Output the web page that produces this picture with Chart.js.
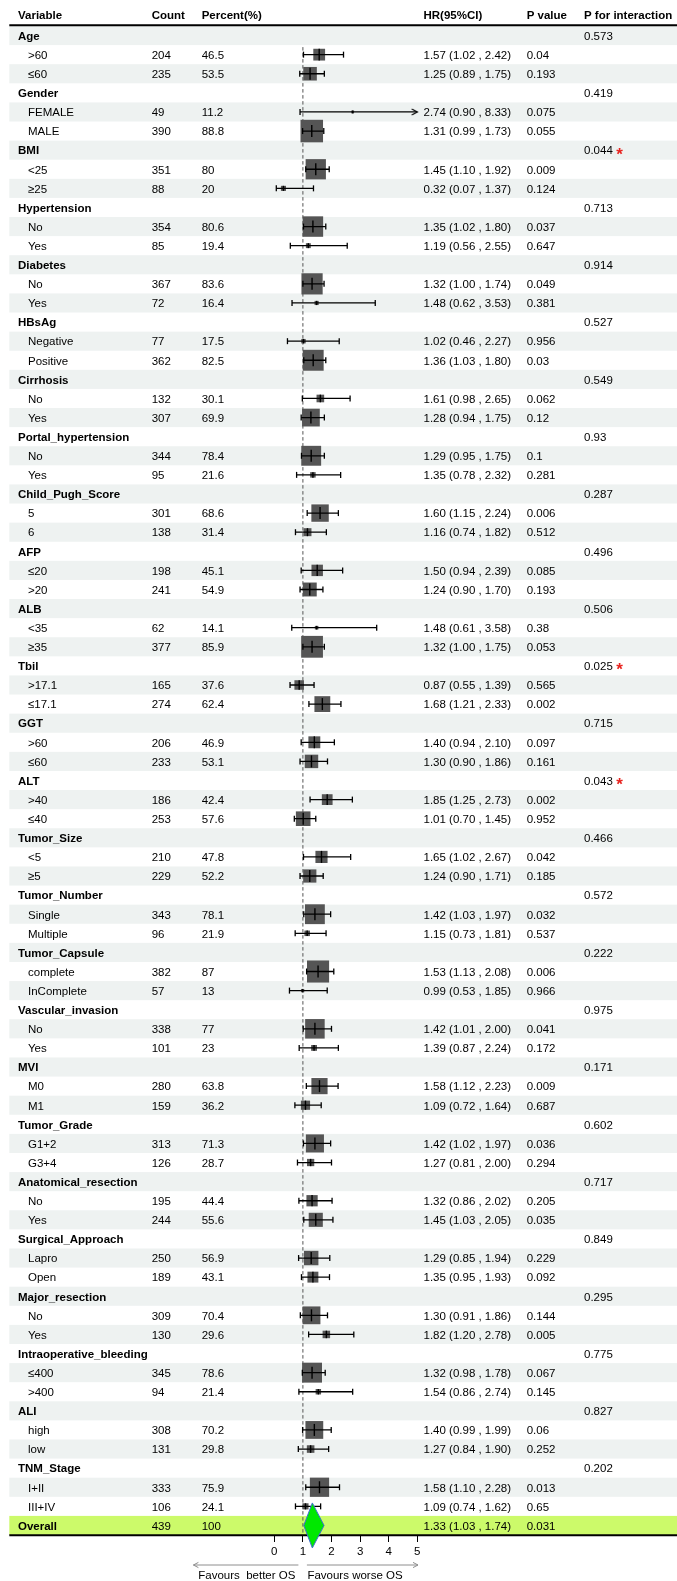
<!DOCTYPE html>
<html>
<head>
<meta charset="utf-8">
<script src="https://cdn.jsdelivr.net/npm/chart.js@4/dist/chart.umd.min.js"></script>
<style>
  html, body { margin: 0; padding: 0; background: #fff; }
  #wrap { position: relative; width: 677px; height: 1581px; }
</style>
</head>
<body>
<div id="wrap"><canvas id="forest"></canvas></div>
<script>
// ---- subgroup analysis data ----
const variables = ['Age','Gender','BMI','Hypertension','Diabetes','HBsAg','Cirrhosis','Portal_hypertension',
  'Child_Pugh_Score','AFP','ALB','Tbil','GGT','ALT','Tumor_Size','Tumor_Number','Tumor_Capsule',
  'Vascular_invasion','MVI','Tumor_Grade','Anatomical_resection','Surgical_Approach','Major_resection',
  'Intraoperative_bleeding','ALI','TNM_Stage'];

const levels = [['>60','≤60'],['FEMALE','MALE'],['<25','≥25'],['No','Yes'],['No','Yes'],['Negative','Positive'],
  ['No','Yes'],['No','Yes'],['5','6'],['≤20','>20'],['<35','≥35'],['>17.1','≤17.1'],['>60','≤60'],['>40','≤40'],
  ['<5','≥5'],['Single','Multiple'],['complete','InComplete'],['No','Yes'],['M0','M1'],['G1+2','G3+4'],
  ['No','Yes'],['Lapro','Open'],['No','Yes'],['≤400','>400'],['high','low'],['I+II','III+IV']];

const counts = [[204,235],[49,390],[351,88],[354,85],[367,72],[77,362],[132,307],[344,95],[301,138],[198,241],
  [62,377],[165,274],[206,233],[186,253],[210,229],[343,96],[382,57],[338,101],[280,159],[313,126],[195,244],
  [250,189],[309,130],[345,94],[308,131],[333,106]];

const percents = [[46.5,53.5],[11.2,88.8],[80,20],[80.6,19.4],[83.6,16.4],[17.5,82.5],[30.1,69.9],[78.4,21.6],
  [68.6,31.4],[45.1,54.9],[14.1,85.9],[37.6,62.4],[46.9,53.1],[42.4,57.6],[47.8,52.2],[78.1,21.9],[87,13],
  [77,23],[63.8,36.2],[71.3,28.7],[44.4,55.6],[56.9,43.1],[70.4,29.6],[78.6,21.4],[70.2,29.8],[75.9,24.1]];

const hazardRatios = [[1.57,1.25],[2.74,1.31],[1.45,0.32],[1.35,1.19],[1.32,1.48],[1.02,1.36],[1.61,1.28],
  [1.29,1.35],[1.60,1.16],[1.50,1.24],[1.48,1.32],[0.87,1.68],[1.40,1.30],[1.85,1.01],[1.65,1.24],[1.42,1.15],
  [1.53,0.99],[1.42,1.39],[1.58,1.09],[1.42,1.27],[1.32,1.45],[1.29,1.35],[1.30,1.82],[1.32,1.54],[1.40,1.27],
  [1.58,1.09]];

const ciLower = [[1.02,0.89],[0.90,0.99],[1.10,0.07],[1.02,0.56],[1.00,0.62],[0.46,1.03],[0.98,0.94],[0.95,0.78],
  [1.15,0.74],[0.94,0.90],[0.61,1.00],[0.55,1.21],[0.94,0.90],[1.25,0.70],[1.02,0.90],[1.03,0.73],[1.13,0.53],
  [1.01,0.87],[1.12,0.72],[1.02,0.81],[0.86,1.03],[0.85,0.95],[0.91,1.20],[0.98,0.86],[0.99,0.84],[1.10,0.74]];

const ciUpper = [[2.42,1.75],[8.33,1.73],[1.92,1.37],[1.80,2.55],[1.74,3.53],[2.27,1.80],[2.65,1.75],[1.75,2.32],
  [2.24,1.82],[2.39,1.70],[3.58,1.75],[1.39,2.33],[2.10,1.86],[2.73,1.45],[2.67,1.71],[1.97,1.81],[2.08,1.85],
  [2.00,2.24],[2.23,1.64],[1.97,2.00],[2.02,2.05],[1.94,1.93],[1.86,2.78],[1.78,2.74],[1.99,1.90],[2.28,1.62]];

const pValues = [[0.04,0.193],[0.075,0.055],[0.009,0.124],[0.037,0.647],[0.049,0.381],[0.956,0.03],[0.062,0.12],
  [0.1,0.281],[0.006,0.512],[0.085,0.193],[0.38,0.053],[0.565,0.002],[0.097,0.161],[0.002,0.952],[0.042,0.185],
  [0.032,0.537],[0.006,0.966],[0.041,0.172],[0.009,0.687],[0.036,0.294],[0.205,0.035],[0.229,0.092],
  [0.144,0.005],[0.067,0.145],[0.06,0.252],[0.013,0.65]];

const pInteraction = [0.573,0.419,0.044,0.713,0.914,0.527,0.549,0.93,0.287,0.496,0.506,0.025,0.715,0.043,
  0.466,0.572,0.222,0.975,0.171,0.602,0.717,0.849,0.295,0.775,0.827,0.202];

const overallLabel = 'Overall';
const overallCount = 439;
const overallPercent = 100;
const overallHR = 1.33;
const overallLower = 1.03;
const overallUpper = 1.74;
const overallP = 0.031;

const columnHeaders = ['Variable','Count','Percent(%)','HR(95%CI)','P value','P for interaction'];
const xTicks = [0, 1, 2, 3, 4, 5];
const referenceHR = 1;
const arrowLabels = ['Favours  better OS', 'Favours worse OS'];

// ---- table rows built from the arrays ----
const rows = [];
variables.forEach((v, g) => {
  rows.push({ label: v, group: true, pint: pInteraction[g] });
  levels[g].forEach((lv, k) => {
    rows.push({ label: lv, group: false, n: counts[g][k], pct: percents[g][k],
      hr: hazardRatios[g][k], lo: ciLower[g][k], hi: ciUpper[g][k], p: pValues[g][k] });
  });
});
rows.push({ label: overallLabel, group: true, overall: true, n: overallCount, pct: overallPercent,
  hr: overallHR, lo: overallLower, hi: overallUpper, p: overallP });

const X_MIN = xTicks[0], X_MAX = xTicks[xTicks.length - 1];
const estRows = rows.map((r, i) => Object.assign({ i }, r)).filter(r => r.hr != null && !r.overall);

// ---- layout & style ----
const FONT = "'Liberation Sans', Arial, sans-serif";
const FS = 11.5;
const COLS = { variable: 18, level: 28, count: 151.7, pct: 201.7, hr: 423.5, p: 526.7, pint: 584 };
const TABLE_LEFT = 9.3;
const BAND_BG = '#eef2f1';
const OVERALL_BG = '#ccfa6a';
const BOX_COLOR = '#555555';
const boxSide = n => n / 17.3;

// open chevron used where a confidence interval runs past the axis
const chevron = document.createElement('canvas');
chevron.width = 14; chevron.height = 10;
(() => {
  const c = chevron.getContext('2d');
  c.strokeStyle = '#000'; c.lineWidth = 1.2;
  c.beginPath(); c.moveTo(1.5, 2); c.lineTo(7, 5); c.lineTo(1.5, 8); c.stroke();
})();

function hrText(r) {
  return `${r.hr.toFixed(2)} (${r.lo.toFixed(2)} , ${r.hi.toFixed(2)})`;
}

const tablePlugin = {
  id: 'forestTable',
  beforeDraw(chart) {
    const { ctx, width, height } = chart;
    const y = chart.scales.y;
    ctx.save();
    ctx.fillStyle = '#fff';
    ctx.fillRect(0, 0, width, height);
    rows.forEach((r, i) => {
      const fill = r.overall ? OVERALL_BG : (i % 2 === 0 ? BAND_BG : null);
      if (!fill) return;
      const t = y.getPixelForValue(i - 0.5), b = y.getPixelForValue(i + 0.5);
      ctx.fillStyle = fill;
      ctx.fillRect(TABLE_LEFT, t, width - TABLE_LEFT, b - t);
    });
    ctx.restore();
  },
  beforeDatasetsDraw(chart) {
    const { ctx, width, chartArea } = chart;
    const { x, y } = chart.scales;
    ctx.save();
    // header and closing rules
    ctx.strokeStyle = '#000';
    ctx.lineWidth = 2;
    ctx.beginPath();
    ctx.moveTo(TABLE_LEFT, chartArea.top - 0.8); ctx.lineTo(width, chartArea.top - 0.8);
    ctx.moveTo(TABLE_LEFT, chartArea.bottom + 0.2); ctx.lineTo(width, chartArea.bottom + 0.2);
    ctx.stroke();
    // reference line at HR = 1
    const rx = x.getPixelForValue(referenceHR);
    ctx.strokeStyle = '#555';
    ctx.lineWidth = 1;
    ctx.setLineDash([3.5, 2.5]);
    ctx.beginPath();
    ctx.moveTo(rx, y.getPixelForValue(0.5) + 2);
    ctx.lineTo(rx, chartArea.bottom);
    ctx.stroke();
    ctx.restore();
  },
  afterDatasetsDraw(chart) {
    const { ctx, chartArea } = chart;
    const { x, y } = chart.scales;
    ctx.save();

    // pooled estimate diamond
    const oi = rows.length - 1, o = rows[oi];
    const cy = y.getPixelForValue(oi), half = 22.5;
    ctx.beginPath();
    ctx.moveTo(x.getPixelForValue(o.lo), cy);
    ctx.lineTo(x.getPixelForValue(o.hr), cy - half);
    ctx.lineTo(x.getPixelForValue(o.hi), cy);
    ctx.lineTo(x.getPixelForValue(o.hr), cy + half);
    ctx.closePath();
    ctx.fillStyle = '#00e800';
    ctx.fill();
    ctx.strokeStyle = '#3d6fcf';
    ctx.lineWidth = 1;
    ctx.stroke();

    // column headers
    ctx.fillStyle = '#000';
    ctx.textBaseline = 'alphabetic';
    ctx.textAlign = 'left';
    ctx.font = `bold ${FS}px ${FONT}`;
    const hy = chartArea.top - 6.7;
    const hx = [COLS.variable, COLS.count, COLS.pct, COLS.hr, COLS.p, COLS.pint];
    columnHeaders.forEach((h, k) => ctx.fillText(h, hx[k], hy));

    // table cells
    rows.forEach((r, i) => {
      const by = y.getPixelForValue(i) + 4.3;
      ctx.fillStyle = '#000';
      ctx.font = `${r.group ? 'bold ' : ''}${FS}px ${FONT}`;
      ctx.fillText(r.label, r.group ? COLS.variable : COLS.level, by);
      ctx.font = `${FS}px ${FONT}`;
      if (r.n != null) {
        ctx.fillText(String(r.n), COLS.count, by);
        ctx.fillText(String(r.pct), COLS.pct, by);
        ctx.fillText(hrText(r), COLS.hr, by);
        ctx.fillText(String(r.p), COLS.p, by);
      }
      if (r.pint != null) {
        const s = String(r.pint);
        ctx.fillText(s, COLS.pint, by);
        if (r.pint < 0.05) {
          const w = ctx.measureText(s).width;
          ctx.fillStyle = '#e8231f';
          ctx.font = `bold 17px ${FONT}`;
          ctx.fillText('*', COLS.pint + w + 3.5, by + 5.2);
        }
      }
    });

    // direction arrows under the axis
    const rx = x.getPixelForValue(referenceHR);
    const ay = chartArea.bottom + 30;
    ctx.strokeStyle = '#8e8e8e';
    ctx.lineWidth = 1;
    ctx.beginPath();
    const lx0 = rx - 4.5, lx1 = rx - 109.5;
    const rx0 = rx + 4, rx1 = x.getPixelForValue(X_MAX) + 0.7;
    ctx.moveTo(lx0, ay); ctx.lineTo(lx1, ay);
    ctx.moveTo(lx1 + 5, ay - 2.6); ctx.lineTo(lx1, ay); ctx.lineTo(lx1 + 5, ay + 2.6);
    ctx.moveTo(rx0, ay); ctx.lineTo(rx1, ay);
    ctx.moveTo(rx1 - 5, ay - 2.6); ctx.lineTo(rx1, ay); ctx.lineTo(rx1 - 5, ay + 2.6);
    ctx.stroke();
    ctx.fillStyle = '#000';
    ctx.font = `${FS}px ${FONT}`;
    ctx.textAlign = 'right';
    ctx.fillText(arrowLabels[0], rx - 7.5, chartArea.bottom + 44);
    ctx.textAlign = 'left';
    ctx.fillText(arrowLabels[1], rx + 4.5, chartArea.bottom + 44);
    ctx.restore();
  }
};

new Chart(document.getElementById('forest'), {
  type: 'scatter',
  data: {
    datasets: [
      {
        // point estimates, box size by subgroup count (drawn first)
        data: estRows.map(r => ({ x: r.hr, y: r.i, n: r.n })),
        pointStyle: 'rect',
        pointRadius: c => c.raw ? boxSide(c.raw.n) / Math.SQRT2 : 0,
        pointBackgroundColor: BOX_COLOR,
        pointBorderWidth: 0,
        clip: false,
        order: 4
      },
      {
        // confidence intervals
        type: 'bar',
        indexAxis: 'y',
        data: estRows.map(r => ({ x: [r.lo, r.hi], y: r.i })),
        backgroundColor: '#000',
        borderWidth: 0,
        barThickness: 1.3,
        inflateAmount: 0,
        order: 3
      },
      {
        // interval end caps
        data: estRows.flatMap(r => {
          const caps = [{ x: r.lo, y: r.i }];
          if (r.hi <= X_MAX) caps.push({ x: r.hi, y: r.i });
          return caps;
        }),
        pointStyle: 'line',
        pointRotation: 90,
        pointRadius: 3,
        pointBorderColor: '#000',
        pointBorderWidth: 1.3,
        clip: false,
        order: 2
      },
      {
        // interval truncated at the axis limit
        data: estRows.filter(r => r.hi > X_MAX).map(r => ({ x: X_MAX, y: r.i })),
        pointStyle: chevron,
        clip: false,
        order: 1
      },
      {
        // estimate marker inside each box
        data: estRows.map(r => ({ x: r.hr, y: r.i, n: r.n })),
        pointStyle: 'line',
        pointRotation: 90,
        pointRadius: c => c.raw ? Math.min(boxSide(c.raw.n), 12) / 2 : 0,
        pointBorderColor: '#000',
        pointBorderWidth: 1.4,
        clip: false,
        order: 0
      }
    ]
  },
  options: {
    responsive: true,
    maintainAspectRatio: false,
    animation: false,
    events: [],
    layout: { padding: { left: 274.3, right: 677 - 417.3, top: 26, bottom: 0 } },
    plugins: { legend: { display: false }, tooltip: { enabled: false } },
    scales: {
      x: {
        type: 'linear',
        position: 'bottom',
        min: X_MIN,
        max: X_MAX,
        offset: false,
        afterBuildTicks: s => { s.ticks = xTicks.map(v => ({ value: v })); },
        afterFit: s => { s.height = 46; },
        grid: { offset: false, drawOnChartArea: false, drawTicks: true, tickLength: 7, color: '#000', tickWidth: 1 },
        border: { display: true, color: '#000', width: 1 },
        ticks: { color: '#000', padding: 3, maxRotation: 0, font: { family: FONT, size: FS } }
      },
      y: {
        type: 'linear',
        display: false,
        reverse: true,
        offset: false,
        grid: { offset: false },
        min: -0.5,
        max: rows.length - 0.5
      }
    }
  },
  plugins: [tablePlugin]
});
</script>
</body>
</html>
